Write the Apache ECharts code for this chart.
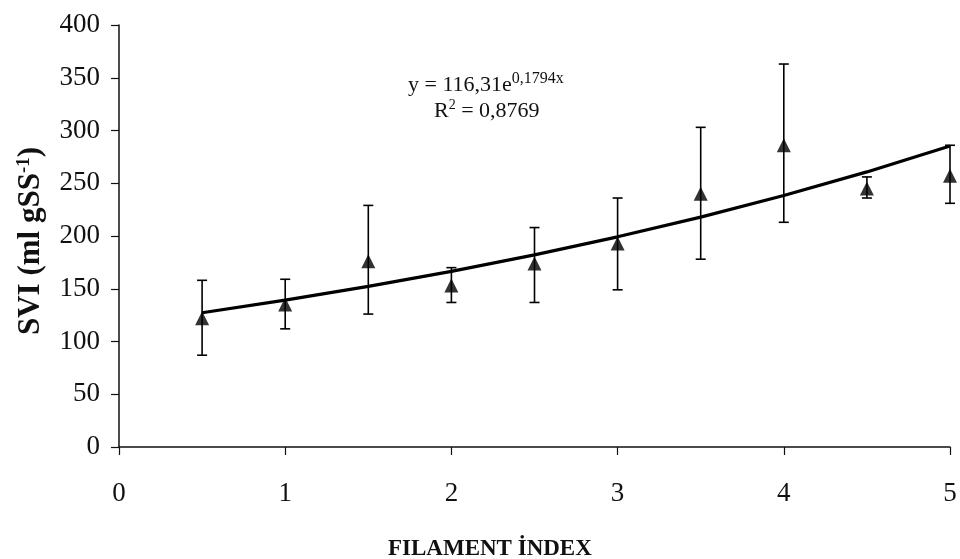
<!DOCTYPE html>
<html>
<head>
<meta charset="utf-8">
<script src="https://cdn.jsdelivr.net/npm/echarts@6/dist/echarts.min.js"></script>
<style>
  html, body { margin: 0; padding: 0; background: #fff; }
  #chart { width: 960px; height: 559px; }
</style>
</head>
<body>
<div id="chart"></div>
<script>
// Filament index vs SVI: mean values with error bars and exponential trend line
const filamentIndex = [0.5, 1, 1.5, 2, 2.5, 3, 3.5, 4, 4.5, 5];
const sviMean  = [122, 135, 176, 153, 174, 193, 240, 286, 245, 257];
const sviUpper = [158, 159, 229, 170, 208, 236, 303, 363, 256, 286];
const sviLower = [87, 112, 126, 137, 137, 149, 178, 213, 236, 231];
const yTicks = [0, 50, 100, 150, 200, 250, 300, 350, 400];
const xTicks = [0, 1, 2, 3, 4, 5];

// Exponential fit reported on the chart: y = 116,31 e^(0,1794 x)
const fitA = 116.31;
const fitB = 0.1794;
const fitR2 = '0,8769';

const FONT = '"Liberation Serif", "DejaVu Serif", serif';

const meanData = filamentIndex.map((x, i) => [x, sviMean[i]]);
const errData = filamentIndex.map((x, i) => [x, sviLower[i], sviUpper[i]]);
const fitData = filamentIndex.map(x => [x, +(fitA * Math.exp(fitB * x)).toFixed(2)]);

const chart = echarts.init(document.getElementById('chart'), null, { renderer: 'canvas' });

chart.setOption({
  animation: false,
  backgroundColor: '#ffffff',
  grid: { left: 119, right: 10, top: 25, bottom: 112, containLabel: false },
  xAxis: {
    type: 'value',
    min: xTicks[0],
    max: xTicks[xTicks.length - 1],
    interval: 1,
    axisLine: { show: true, onZero: false, lineStyle: { color: '#111', width: 1.5 } },
    axisTick: { show: true, inside: false, length: 8, lineStyle: { color: '#111', width: 1.2 } },
    splitLine: { show: false },
    axisLabel: { color: '#111', fontFamily: FONT, fontSize: 27, margin: 33 }
  },
  yAxis: {
    type: 'value',
    min: yTicks[0],
    max: yTicks[yTicks.length - 1],
    interval: 50,
    axisLine: { show: true, lineStyle: { color: '#111', width: 1.5 } },
    axisTick: { show: true, inside: false, length: 8, lineStyle: { color: '#111', width: 1.2 } },
    splitLine: { show: false },
    axisLabel: { color: '#111', fontFamily: FONT, fontSize: 27, margin: 19 }
  },
  graphic: [
    {
      type: 'text',
      left: 388, top: 538,
      style: {
        text: 'FILAMENT İNDEX',
        font: 'bold 23px ' + FONT,
        fill: '#111'
      }
    },
    {
      type: 'text',
      x: 31, y: 241,
      rotation: Math.PI / 2,
      style: {
        text: '{b|SVI (ml gSS}{s|-1}{b|)}',
        align: 'center',
        verticalAlign: 'middle',
        fill: '#111',
        rich: {
          b: { font: 'bold 31px ' + FONT, fill: '#111' },
          s: { font: 'bold 19px ' + FONT, fill: '#111', verticalAlign: 'top', padding: [0, 0, 14, 0] }
        }
      }
    },
    {
      type: 'text',
      left: 408, top: 71,
      style: {
        text: '{t|y = 116,31e}{e|0,1794x}',
        fill: '#111',
        rich: {
          t: { font: '22px ' + FONT, fill: '#111' },
          e: { font: '16px ' + FONT, fill: '#111', padding: [0, 0, 12, 0] }
        }
      }
    },
    {
      type: 'text',
      left: 434, top: 98,
      style: {
        text: '{t|R}{e|2}{t| = ' + fitR2 + '}',
        fill: '#111',
        rich: {
          t: { font: '22px ' + FONT, fill: '#111' },
          e: { font: '14px ' + FONT, fill: '#111', padding: [0, 0, 12, 0] }
        }
      }
    }
  ],
  series: [
    {
      name: 'fit',
      type: 'line',
      data: fitData,
      showSymbol: false,
      smooth: false,
      lineStyle: { color: '#000', width: 3.2 },
      z: 3
    },
    {
      name: 'error',
      type: 'custom',
      data: errData,
      z: 4,
      renderItem: function (params, api) {
        const x = api.value(0);
        const lo = api.coord([x, api.value(1)]);
        const hi = api.coord([x, api.value(2)]);
        const cap = 5;
        const st = { stroke: '#000', lineWidth: 1.6 };
        return {
          type: 'group',
          children: [
            { type: 'line', shape: { x1: lo[0], y1: lo[1], x2: hi[0], y2: hi[1] }, style: st },
            { type: 'line', shape: { x1: lo[0] - cap, y1: lo[1], x2: lo[0] + cap, y2: lo[1] }, style: st },
            { type: 'line', shape: { x1: hi[0] - cap, y1: hi[1], x2: hi[0] + cap, y2: hi[1] }, style: st }
          ]
        };
      }
    },
    {
      name: 'SVI',
      type: 'scatter',
      data: meanData,
      symbol: 'triangle',
      symbolSize: [14, 14],
      itemStyle: { color: '#000' },
      z: 5
    }
  ]
});
</script>
</body>
</html>
